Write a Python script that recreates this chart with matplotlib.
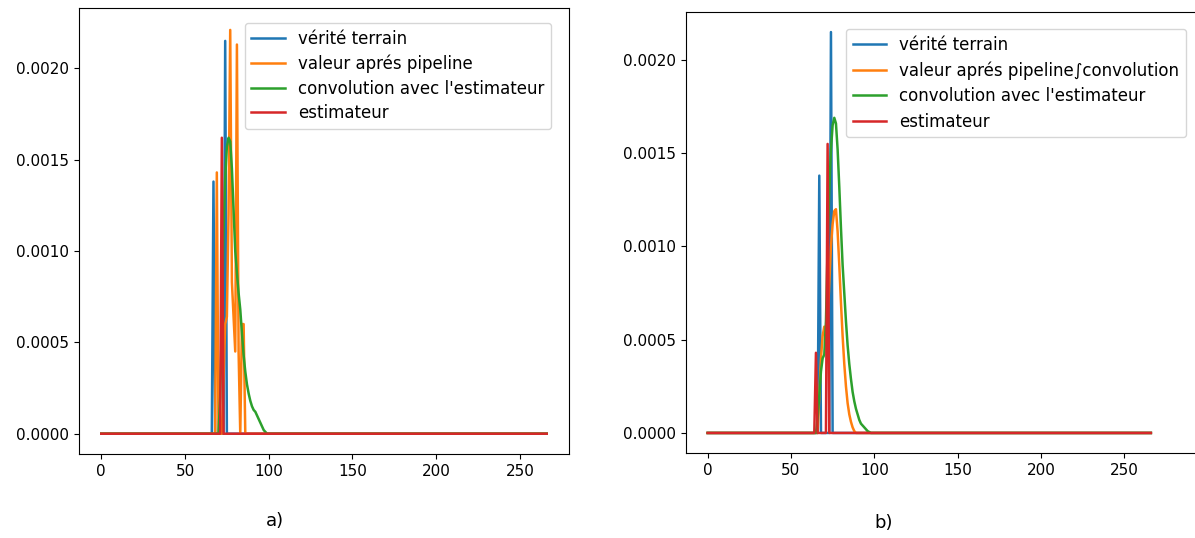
import matplotlib
matplotlib.use("Agg")
import matplotlib.pyplot as plt
import numpy as np

plt.rcParams['font.size'] = 11

n_points = 267  # samples 0..266

# ---------------- values ----------------
# vérité terrain (same in both panels): sparse spikes
verite_t = [67, 74]
verite_v = [0.00138, 0.00215]

# panel a)
a_pipe_t0 = 66
a_pipe_v = [0.0, 0.0, 0.0, 0.00143, 0.0, 0.0, 0.0, 0.0003, 0.0006, 0.00064,
            0.0012, 0.00221, 0.00083, 0.00064, 0.00045, 0.00213, 0.00045,
            0.0, 0.0006, 0.0006, 0.0]
a_conv_t0 = 70
a_conv_v = [0.0, 0.0002, 0.0006, 0.0011, 0.0014, 0.00157, 0.00162, 0.0016,
            0.00145, 0.00122, 0.001, 0.00088, 0.00077, 0.00068, 0.00055,
            0.00043, 0.00034, 0.00027, 0.00022, 0.00018, 0.00015, 0.00013,
            0.00012, 0.0001, 0.00008, 0.00006, 0.00004, 0.00002, 0.00001, 0.0]
a_est_t = [72]
a_est_v = [0.00162]

# panel b)
b_pipe_t0 = 66
b_pipe_v = [0.0, 0.0002, 0.0004, 0.00052, 0.00057, 0.0005, 0.0006, 0.0008,
            0.001, 0.00112, 0.00119, 0.0012, 0.00108, 0.0009, 0.0007, 0.00052,
            0.00037, 0.00025, 0.00016, 0.0001, 0.00006, 0.00003, 0.00001, 0.0]
b_conv_t0 = 65
b_conv_v = [0.0, 0.00008, 0.0002, 0.00033, 0.0004, 0.00042, 0.0006, 0.001,
            0.0013, 0.00152, 0.00165, 0.00169, 0.00166, 0.00152, 0.00132,
            0.0011, 0.0009, 0.00075, 0.0006, 0.00047, 0.00037, 0.00029,
            0.00022, 0.00017, 0.00013, 0.0001, 0.00007, 0.00005, 0.00004,
            0.00003, 0.00002, 0.00001, 0.000005, 0.0]
b_est_t = [65, 72]
b_est_v = [0.00043, 0.00155]

labels_a = ["vérité terrain", "valeur aprés pipeline",
            "convolution avec l'estimateur", "estimateur"]
labels_b = ["vérité terrain", "valeur aprés pipeline\u222bconvolution",
            "convolution avec l'estimateur", "estimateur"]


def spikes(ts, vs):
    y = np.zeros(n_points)
    y[ts] = vs
    return y


def window(t0, vs):
    y = np.zeros(n_points)
    y[t0:t0 + len(vs)] = vs
    return y


x = np.arange(n_points)

fig = plt.figure(figsize=(11.95, 5.38), dpi=100)
W, H = 1195, 538

ax1 = fig.add_axes([79 / W, 1 - 454 / H, 490 / W, 446 / H])
ax2 = fig.add_axes([686 / W, 1 - 453 / H, 514 / W, 441 / H])

lw = 1.8
ax1.plot(x, spikes(verite_t, verite_v), lw=lw, label=labels_a[0])
ax1.plot(x, window(a_pipe_t0, a_pipe_v), lw=lw, label=labels_a[1])
ax1.plot(x, window(a_conv_t0, a_conv_v), lw=lw, label=labels_a[2])
ax1.plot(x, spikes(a_est_t, a_est_v), lw=lw, label=labels_a[3])

ax2.plot(x, spikes(verite_t, verite_v), lw=lw, label=labels_b[0])
ax2.plot(x, window(b_pipe_t0, b_pipe_v), lw=lw, label=labels_b[1])
ax2.plot(x, window(b_conv_t0, b_conv_v), lw=lw, label=labels_b[2])
ax2.plot(x, spikes(b_est_t, b_est_v), lw=lw, label=labels_b[3])

ax1.set_xlim(-13.3, 279.3)
ax2.set_xlim(-13.0, 295.5)
ax1.set_xticks([0, 50, 100, 150, 200, 250])
ax2.set_xticks([0, 50, 100, 150, 200, 250])
ax1.set_ylim(-0.000111, 0.00233)
ax2.set_ylim(-0.0001075, 0.0022575)
ax1.set_yticks([0, 0.0005, 0.001, 0.0015, 0.002])
ax2.set_yticks([0, 0.0005, 0.001, 0.0015, 0.002])
ax1.yaxis.set_major_formatter(matplotlib.ticker.FormatStrFormatter('%.4f'))
ax2.yaxis.set_major_formatter(matplotlib.ticker.FormatStrFormatter('%.4f'))

ax1.legend(loc='upper right', bbox_to_anchor=(551 / W, 1 - 23 / H),
           bbox_transform=fig.transFigure, borderaxespad=0, fontsize=12,
           labelspacing=0.4)
ax2.legend(loc='upper right', bbox_to_anchor=(1186 / W, 1 - 29 / H),
           bbox_transform=fig.transFigure, borderaxespad=0, fontsize=12,
           labelspacing=0.45)

fig.text(275 / W, 1 - 521 / H, "a)", ha='center', va='center', fontsize=13)
fig.text(884 / W, 1 - 523 / H, "b)", ha='center', va='center', fontsize=13)

fig.savefig("out.png", dpi=100)
